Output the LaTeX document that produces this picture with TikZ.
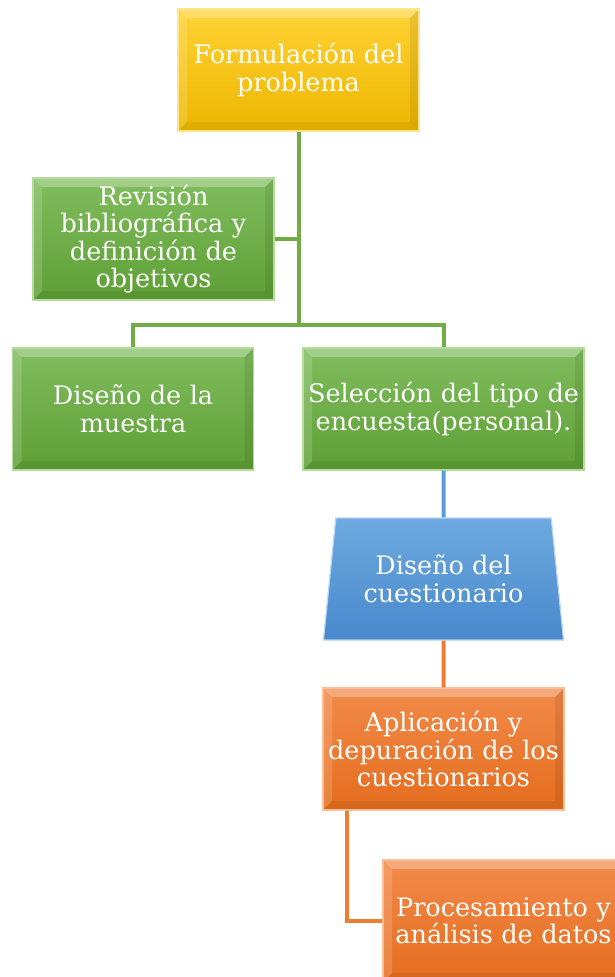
\documentclass[tikz,border=0pt]{standalone}
\usepackage{fontspec}
\setmainfont{DejaVu Serif}
\usetikzlibrary{shapes.geometric}
\definecolor{yTop}{HTML}{FFD234}
\definecolor{yBot}{HTML}{EDB600}
\definecolor{yEdge}{HTML}{FFE48A}
\definecolor{gTop}{HTML}{80BD5E}
\definecolor{gBot}{HTML}{5E9F35}
\definecolor{gEdge}{HTML}{B5DB9C}
\definecolor{bTop}{HTML}{6EAAE0}
\definecolor{bBot}{HTML}{4888CC}
\definecolor{bEdge}{HTML}{B6D5F0}
\definecolor{oTop}{HTML}{F28A4A}
\definecolor{oBot}{HTML}{E56D1E}
\definecolor{oEdge}{HTML}{F9BE98}
\definecolor{gLine}{HTML}{70AD47}
\definecolor{bLine}{HTML}{5B9BD5}
\definecolor{oLine}{HTML}{ED7D31}
\tikzset{
  x=1pt, y=1pt,
  bevel/.style={path picture={
    \coordinate (nw) at (path picture bounding box.north west);
    \coordinate (ne) at (path picture bounding box.north east);
    \coordinate (sw) at (path picture bounding box.south west);
    \coordinate (se) at (path picture bounding box.south east);
    \fill[white,opacity=0.28] (nw) -- (ne) -- ([shift={(-9,-9)}]ne) -- ([shift={(9,-9)}]nw) -- cycle;
    \fill[white,opacity=0.15] (nw) -- (sw) -- ([shift={(9,9)}]sw) -- ([shift={(9,-9)}]nw) -- cycle;
    \fill[black,opacity=0.08] (ne) -- (se) -- ([shift={(-9,9)}]se) -- ([shift={(-9,-9)}]ne) -- cycle;
    \fill[black,opacity=0.06] (sw) -- (se) -- ([shift={(-9,9)}]se) -- ([shift={(9,9)}]sw) -- cycle;
  }},
  boxbase/.style={rectangle, minimum width=241pt, minimum height=122pt, inner sep=1pt,
    text width=239pt, align=center, text=white, line width=1.2pt, bevel,
    font=\fontsize{25.5}{27.5}\selectfont},
  ybox/.style={boxbase, top color=yTop, bottom color=yBot, draw=yEdge},
  gbox/.style={boxbase, top color=gTop, bottom color=gBot, draw=gEdge},
  obox/.style={boxbase, top color=oTop, bottom color=oBot, draw=oEdge},
  bshape/.style={trapezium, trapezium stretches body, trapezium left angle=75.5, trapezium right angle=75.5,
    minimum width=240pt, minimum height=122pt, inner sep=0pt, align=center, text=white,
    top color=bTop, bottom color=bBot, draw=bEdge, line width=1.2pt,
    font=\fontsize{25.5}{27.5}\selectfont},
  gl/.style={draw=gLine, line width=4pt},
  bl/.style={draw=bLine, line width=4pt},
  ol/.style={draw=oLine, line width=4pt},
}
\begin{document}
\begin{tikzpicture}
\useasboundingbox (0,0) rectangle (615,-977);
\node[ybox] (f) at (298.5,-70) {Formulación del\\problema};
\node[gbox] (r) at (153.5,-239) {Revisión\\bibliográfica y\\definición de\\objetivos};
\node[gbox] (d) at (133,-409) {Diseño de la\\muestra};
\node[gbox, minimum width=281pt, text width=279pt] (s) at (443.5,-409) {Selección del tipo de\\encuesta(personal).};
\node[bshape] (q) at (443.5,-579) {Diseño del\\cuestionario};
\node[obox] (a) at (443.5,-749) {Aplicación y\\depuración de los\\cuestionarios};
\node[obox] (p) at (503.5,-921) {Procesamiento y\\análisis de datos};
\coordinate (j) at (f.south |- 0,-325);
\draw[gl] (f.south) -- (j);
\draw[gl] (r.east) -- (r.east -| f.south);
\draw[gl] (d.north) |- (j) -| (s.north);
\draw[bl] (s.south) -- (q.north);
\draw[ol] (q.south) -- (a.north);
\draw[ol] ([xshift=25pt]a.south west) |- (p.west);
\end{tikzpicture}
\end{document}
